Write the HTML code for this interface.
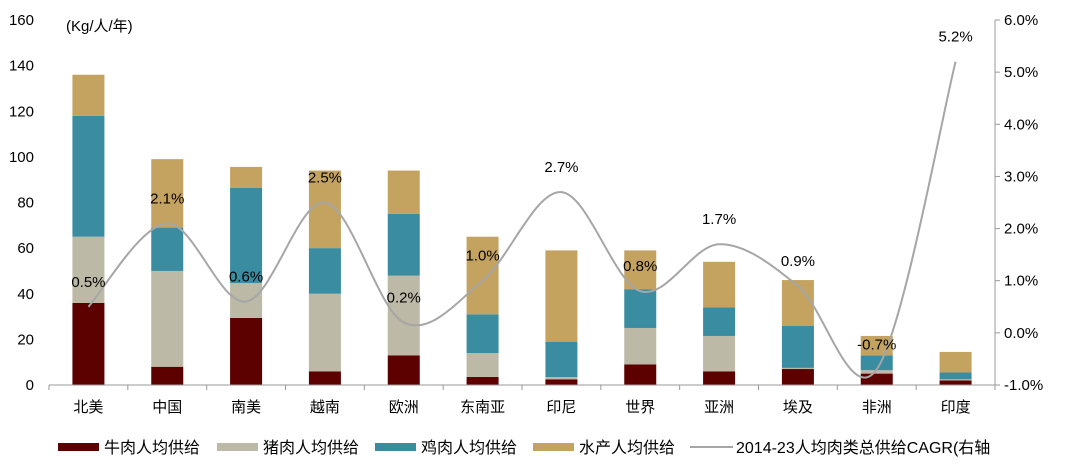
<!DOCTYPE html>
<html><head><meta charset="utf-8"><style>
body{margin:0;background:#fff;}
svg{display:block;font-family:"Liberation Sans","Noto Sans CJK SC",sans-serif;}
</style></head><body>
<svg id="c" width="1080" height="466" viewBox="0 0 1080 466"></svg>
<script>
const categories=["北美","中国","南美","越南","欧洲","东南亚","印尼","世界","亚洲","埃及","非洲","印度"];
const beef=[36,8,29.4,6,13,3.5,2.5,9,6,7,5,2];
const pork=[65,50,44.7,40,48,14,3.5,25,21.5,7.5,6.5,2.5];
const chicken=[118,69,86.5,60,75,31,19,42,34,26,13,5.5];
const aqua=[136,99,95.6,94,94,65,59,59,54,46,21.5,14.5];
const cagr=[0.5,2.1,0.6,2.5,0.2,1.0,2.7,0.8,1.7,0.9,-0.7,5.2];
const leftTicks=[0,20,40,60,80,100,120,140,160];
const rightTicks=[-1,0,1,2,3,4,5,6];
const seriesNames=["牛肉人均供给","猪肉人均供给","鸡肉人均供给","水产人均供给"];
const colors=["#5c0000","#bcb9a6","#3a8ca0","#c4a260"];
const NS="http://www.w3.org/2000/svg";
const svg=document.getElementById('c');
const X0=49,X1=995,Y0=385,Y1=20;
const step=(X1-X0)/categories.length;
const xc=i=>X0+step*(i+0.5);
const yL=v=>Y0-(v/160)*(Y0-Y1);
const yR=v=>Y0-((v+1)/7)*(Y0-Y1);
function el(t,a,txt){const e=document.createElementNS(NS,t);for(const k in a)e.setAttribute(k,a[k]);if(txt!=null)e.textContent=txt;svg.appendChild(e);return e;}
leftTicks.forEach(v=>{const t=el('text',{x:34,y:yL(v)+5,'text-anchor':'end','font-size':15,fill:'#000'},v);

});
rightTicks.forEach(v=>{el('line',{x1:X1,x2:X1+5,y1:yR(v),y2:yR(v),stroke:'#999'});
const t=el('text',{x:1004,y:yR(v)+5,'font-size':15,fill:'#000'},v.toFixed(1)+'%');

});
el('line',{x1:X1,x2:X1,y1:Y1,y2:Y0,stroke:'#999'});
const u=el('text',{x:66,y:31,'font-size':15,fill:'#000'},'(Kg/人/年)');


const stacks=[beef,pork,chicken,aqua];
categories.forEach((c,i)=>{
  let prev=0;
  stacks.forEach((s,k)=>{
    const r=el('rect',{x:xc(i)-16,y:yL(s[i]),width:32,height:Math.max(0,yL(prev)-yL(s[i])),fill:colors[k]});
    
    
    prev=s[i];
  });
  const t=el('text',{x:xc(i),y:412,'text-anchor':'middle','font-size':15,fill:'#000'},c);
  
  
});
el('line',{x1:X0,x2:X1,y1:Y0,y2:Y0,stroke:'#999'});
for(let i=0;i<=categories.length;i++)el('line',{x1:X0+step*i,x2:X0+step*i,y1:Y0,y2:Y0+5,stroke:'#999'});
const pts=cagr.map((v,i)=>[xc(i),yR(v)]);
let d='M'+pts[0][0]+','+pts[0][1];
for(let i=0;i<pts.length-1;i++){
  const p0=pts[Math.max(0,i-1)],p1=pts[i],p2=pts[i+1],p3=pts[Math.min(pts.length-1,i+2)];
  const c1=[p1[0]+(p2[0]-p0[0])/6,p1[1]+(p2[1]-p0[1])/6];
  const c2=[p2[0]-(p3[0]-p1[0])/6,p2[1]-(p3[1]-p1[1])/6];
  d+=` C${c1[0]},${c1[1]} ${c2[0]},${c2[1]} ${p2[0]},${p2[1]}`;
}
const ln=el('path',{d:d,fill:'none',stroke:'#a6a6a6','stroke-width':2});


cagr.forEach((v,i)=>{
  const t=el('text',{x:xc(i),y:yR(v)-20,'text-anchor':'middle','font-size':15,fill:'#000'},v.toFixed(1)+'%');
  
  
});
const legX=[58,217,375,533];
seriesNames.forEach((n,k)=>{
  const r=el('rect',{x:legX[k],y:443,width:41,height:8,fill:colors[k]});
  
  
  const t=el('text',{x:legX[k]+46,y:453,'font-size':16,fill:'#000'},n);
  
  
});
el('line',{x1:690,x2:733,y1:447,y2:447,stroke:'#a6a6a6','stroke-width':2});
const lt=el('text',{x:736,y:453,'font-size':16,fill:'#000'},'2014-23人均肉类总供给CAGR(右轴');


</script>
</body></html>
